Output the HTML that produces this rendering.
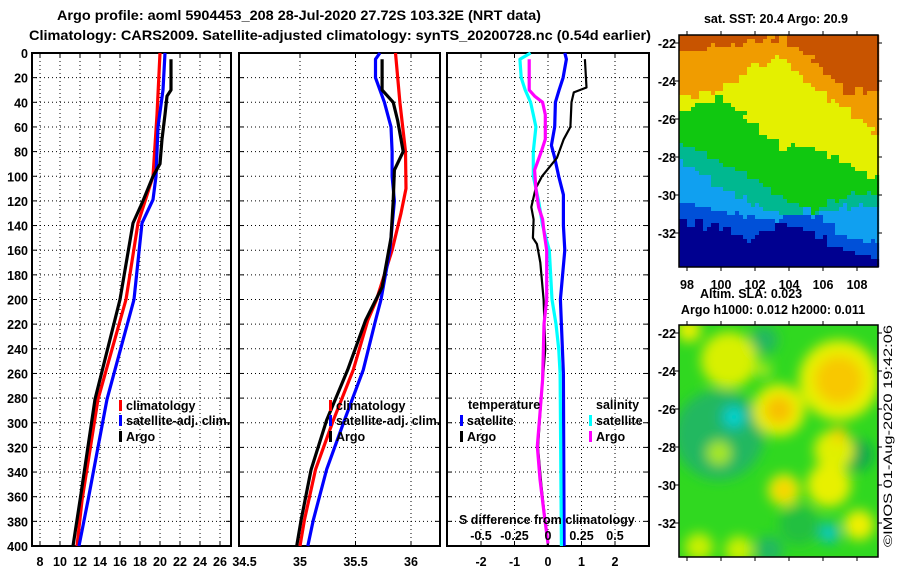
<!DOCTYPE html>
<html><head><meta charset="utf-8">
<style>
html,body{margin:0;padding:0;background:#fff;}
svg{display:block;font-family:"Liberation Sans",sans-serif;}
.b{font-weight:bold;font-size:12.5px;fill:#000;}
.t{font-weight:bold;font-size:14px;fill:#000;}
</style></head>
<body>
<svg id="fig" width="900" height="580" viewBox="0 0 900 580" xmlns="http://www.w3.org/2000/svg">
<text class="t" x="57" y="20" textLength="484" lengthAdjust="spacingAndGlyphs">Argo profile: aoml 5904453_208 28-Jul-2020 27.72S 103.32E (NRT data)</text>
<text class="t" x="29" y="40" textLength="622" lengthAdjust="spacingAndGlyphs">Climatology: CARS2009. Satellite-adjusted climatology: synTS_20200728.nc (0.54d earlier)</text>
<g id="panels"></g>
<g id="maps"></g>
<text x="892" y="547" transform="rotate(-90 892 547)" font-size="11.5" textLength="222" lengthAdjust="spacingAndGlyphs">©IMOS 01-Aug-2020 19:42:06</text>
</svg>
<script>
// ---- depth / profile data ----
const depthTicks = [0,20,40,60,80,100,120,140,160,180,200,220,240,260,280,300,320,340,360,380,400];
const tempTicks = [8,10,12,14,16,18,20,22,24,26];
const salTicks = [34.5,35,35.5,36];
const diffTicks = [-2,-1,0,1,2];
const sDiffTickLabels = ["-0.5","-0.25","0","0.25","0.5"];
const sDiffTickValues = [-0.5,-0.25,0,0.25,0.5];

const climTDepth = [0,50,100,138,200,281,363,400];
const climT = [20.0,19.7,19.3,17.8,16.6,13.8,12.2,11.7];
const satTDepth = [0,30,60,100,119,138,200,281,363,400];
const satT = [20.5,20.3,19.8,19.6,19.3,18.2,17.4,14.7,12.8,11.9];
const argoTDepth = [5,30,35,50,70,90,100,120,138,200,281,363,400];
const argoT = [21.1,21.1,20.7,20.5,20.2,20.0,19.3,18.3,17.3,16.0,13.5,12.0,11.3];

const climSDepth = [0,40,80,110,130,160,200,217,257,298,338,379,400];
const climS = [35.86,35.9,35.95,35.955,35.91,35.83,35.69,35.61,35.48,35.30,35.14,35.04,35.0];
const satSDepth = [0,5,20,40,60,80,100,120,160,200,217,257,298,338,379,400];
const satS = [35.72,35.68,35.68,35.76,35.82,35.83,35.83,35.85,35.81,35.73,35.68,35.57,35.40,35.24,35.12,35.07];
const argoSDepth = [5,30,40,55,80,95,120,150,190,217,257,298,338,379,400];
const argoS = [35.74,35.74,35.84,35.88,35.93,35.85,35.84,35.82,35.74,35.59,35.43,35.24,35.10,35.01,34.97];

const satDTDepth = [0,5,20,30,40,60,75,85,100,115,140,160,200,260,400];
const satDT = [0.5,0.55,0.45,0.33,0.22,0.2,0.1,0.2,0.32,0.46,0.46,0.5,0.37,0.46,0.48];
const argoDTDepth = [5,28,32,40,60,70,85,100,110,125,135,150,155,170,200,240,280,320,350,400];
const argoDT = [1.1,1.15,0.77,0.7,0.67,0.47,0.27,-0.18,-0.37,-0.5,-0.43,-0.45,-0.33,-0.23,-0.13,-0.08,-0.2,-0.3,-0.2,0];
const satDSDepth = [0,5,20,30,40,50,60,80,100,120,140,160,200,220,240,260,400];
const satDS = [-0.13,-0.21,-0.2,-0.17,-0.13,-0.11,-0.09,-0.11,-0.11,-0.07,-0.04,0.01,0.03,0.06,0.08,0.09,0.1];
const argoDSDepth = [5,30,35,40,50,70,80,95,110,125,135,145,160,200,220,265,292,319,346,373,398];
const argoDS = [-0.14,-0.14,-0.1,-0.04,-0.02,-0.02,-0.05,-0.1,-0.09,-0.07,-0.04,-0.03,-0.01,-0.01,-0.03,-0.04,-0.06,-0.08,-0.06,-0.03,0];

const mapLatTicks = [-22,-24,-26,-28,-30,-32];
const mapLonTicks = [98,100,102,104,106,108];

const NS="http://www.w3.org/2000/svg";
function mk(tag,attrs,parent){const e=document.createElementNS(NS,tag);for(const k in attrs)e.setAttribute(k,attrs[k]);parent.appendChild(e);return e;}
const yD = d => 53 + d*1.2325;
const xT = t => 40 + (t-8)*10;
const xS = s => 300 + (s-35)*111;
const xDT = v => 548 + v*33.5;
const xDS = v => 548 + v*134;
const P = document.getElementById('panels');

const frames=[{x0:32,x1:231,name:'temperature-panel'},{x0:239,x1:440,name:'salinity-panel'},{x0:447,x1:649,name:'difference-panel'}];
frames.forEach((f,i)=>{
  const g=mk('g',{},P);
  
  
  depthTicks.forEach(d=>{
    if(d>0&&d<400){const l=mk('line',{x1:f.x0,x2:f.x1,y1:yD(d),y2:yD(d),stroke:'#000','stroke-width':1,'stroke-dasharray':'1 3'},g);
    
    }
    mk('line',{x1:f.x0,x2:f.x0+5,y1:yD(d),y2:yD(d),stroke:'#000'},g);
    mk('line',{x1:f.x1-5,x2:f.x1,y1:yD(d),y2:yD(d),stroke:'#000'},g);
  });
  const r=mk('rect',{x:f.x0,y:53,width:f.x1-f.x0,height:493,fill:'none',stroke:'#000','stroke-width':2},g);
  
  
});
depthTicks.forEach(d=>{
  const t=mk('text',{x:28,y:yD(d)+5,'text-anchor':'end',class:'b'},P);
  t.textContent=d;
  
  
});
function vgrid(xs,scale,labels){
  xs.forEach((v,i)=>{
    const x=scale(v);
    const l=mk('line',{x1:x,x2:x,y1:53,y2:546,stroke:'#000','stroke-dasharray':'1 3'},P);
    
    
    mk('line',{x1:x,x2:x,y1:53,y2:58,stroke:'#000'},P);
    mk('line',{x1:x,x2:x,y1:541,y2:546,stroke:'#000'},P);
    if(labels){const t=mk('text',{x:x,y:566,'text-anchor':'middle',class:'b'},P);
    t.textContent=labels[i];
    
    }
  });
}
vgrid(tempTicks,xT,tempTicks.map(String));
vgrid([35,35.5,36],xS,null);
salTicks.forEach(s=>{const t=mk('text',{x:xS(s),y:566,'text-anchor':'middle',class:'b'},P);t.textContent=String(s);

});
vgrid(diffTicks,xDT,diffTicks.map(String));

function line(depths,vals,scale,color,w,name){
  const pts=depths.map((d,i)=>scale(vals[i]).toFixed(1)+','+yD(d).toFixed(1)).join(' ');
  const p=mk('polyline',{points:pts,fill:'none',stroke:color,'stroke-width':w,'stroke-linejoin':'round'},P);
  
  
}
line(climTDepth,climT,xT,'#f00',3.2,'temperature-climatology-line');
line(satTDepth,satT,xT,'#00f',3.2,'temperature-satellite-line');
line(argoTDepth,argoT,xT,'#000',3.2,'temperature-argo-line');
line(climSDepth,climS,xS,'#f00',3.2,'salinity-climatology-line');
line(satSDepth,satS,xS,'#00f',3.2,'salinity-satellite-line');
line(argoSDepth,argoS,xS,'#000',3.2,'salinity-argo-line');
line(satDTDepth,satDT,xDT,'#00f',3.2,'temp-diff-satellite-line');
line(argoDTDepth,argoDT,xDT,'#000',2.2,'temp-diff-argo-line');
line(satDSDepth,satDS,xDS,'#0ff',3.2,'sal-diff-satellite-line');
line(argoDSDepth,argoDS,xDS,'#f0f',3.2,'sal-diff-argo-line');

function legend(x,y,color,label,name){
  const g=mk('g',{},P);
  
  
  mk('rect',{x:x,y:y-10,width:3,height:11,fill:color},g);
  const t=mk('text',{x:x+7,y:y,class:'b'},g);t.textContent=label;
}
legend(119,410,'#f00','climatology','legend-climatology');
legend(119,425,'#00f','satellite-adj. clim.','legend-satellite-adj');
legend(119,441,'#000','Argo','legend-argo');
legend(329,410,'#f00','climatology','legend-climatology-sal');
legend(329,425,'#00f','satellite-adj. clim.','legend-satellite-adj-sal');
legend(329,441,'#000','Argo','legend-argo-sal');
let tt=mk('text',{x:468,y:409,class:'b'},P);tt.textContent='temperature';


legend(460,425,'#00f','satellite','legend-temp-satellite');
legend(460,441,'#000','Argo','legend-temp-argo');
tt=mk('text',{x:596,y:409,class:'b'},P);tt.textContent='salinity';


legend(589,425,'#0ff','satellite','legend-sal-satellite');
legend(589,441,'#f0f','Argo','legend-sal-argo');
tt=mk('text',{x:459,y:524,class:'b'},P);tt.textContent='S difference from climatology';


sDiffTickValues.forEach((v,i)=>{const t=mk('text',{x:xDS(v),y:540,'text-anchor':'middle',class:'b'},P);t.textContent=sDiffTickLabels[i];

});

// ---- maps ----
const M=document.getElementById('maps');
const mx0=679,mx1=878;
const latY=(top,lat)=>top+8+(-22-lat)*19;
const lonX=lon=>687+(lon-98)*17;
const bx=[0,40,70,100,130,165,199];
const bounds=[[15,10,5,0,20,55,55],[60,55,30,20,50,70,100],[75,60,85,110,110,125,145],[105,125,140,160,175,160,155],[125,150,165,178,178,170,170],[165,172,180,182,172,200,205],[185,190,205,185,195,215,222]];
const cols=['#c85400','#f09c00','#e4f000','#10c810','#00b890','#10a0f0','#0050d8','#000090'];
function interp(arr,x){for(let i=0;i<bx.length-1;i++){if(x<=bx[i+1]){const f=(x-bx[i])/(bx[i+1]-bx[i]);return arr[i]+f*(arr[i+1]-arr[i]);}}return arr[arr.length-1];}
const sst=mk('g',{},M);


for(let x=0;x<199;x+=4){for(let y=0;y<232;y+=4){
  const wob=2.5*Math.sin(x*0.37+y*0.21)+2*Math.sin(y*0.53-x*0.11);
  let lvl=0;bounds.forEach(b=>{if(y+wob>interp(b,x))lvl++;});
  mk('rect',{x:mx0+x,y:35+y,width:4.2,height:4.2,fill:cols[lvl]},sst);
}}
const sla=mk('g',{},M);


const defs=mk('defs',{},M);
const cp=mk('clipPath',{id:'slaclip'},defs);mk('rect',{x:mx0,y:325,width:199,height:232},cp);
const fl=mk('filter',{id:'blur',x:'-50%',y:'-50%',width:'200%',height:'200%'},defs);mk('feGaussianBlur',{stdDeviation:6},fl);
mk('rect',{x:mx0,y:325,width:199,height:232,fill:'#30d820'},sla);
const bg=mk('g',{'clip-path':'url(#slaclip)'},sla);
const bl=mk('g',{filter:'url(#blur)'},bg);
const blobs=[[40,110,45,'#20b860'],[85,15,14,'#20b860'],[90,225,14,'#20b860'],[178,130,16,'#10a850'],[120,200,20,'#20c040'],
[50,35,28,'#d8f000'],[10,5,12,'#e8f000'],[160,55,40,'#e8f000'],[160,55,24,'#f8c800'],[155,125,20,'#e0f000'],[150,160,22,'#e8f000'],
[100,85,26,'#e8f000'],[100,85,14,'#f8c000'],[105,165,16,'#f0e800'],[105,165,7,'#f8c800'],[180,200,15,'#f0f000'],[40,128,12,'#a8e820'],
[20,222,14,'#c8f000'],[60,225,14,'#c8f000'],[160,110,8,'#f8d000'],[55,92,14,'#10b8a0'],[55,92,7,'#00e0e0'],[150,208,11,'#10b8a0'],[150,208,5,'#00e0d8'],[85,45,8,'#a0e820']];
blobs.forEach(b=>mk('circle',{cx:mx0+b[0],cy:325+b[1],r:b[2],fill:b[3]},bl));

[35,325].forEach((top,k)=>{
  const f=mk('rect',{x:mx0,y:top,width:199,height:232,fill:'none',stroke:'#000','stroke-width':1.5},M);
  
  
  mapLatTicks.forEach(lat=>{const y=latY(top,lat);
    mk('line',{x1:mx0-4,x2:mx0,y1:y,y2:y,stroke:'#000'},M);mk('line',{x1:mx1,x2:mx1+4,y1:y,y2:y,stroke:'#000'},M);
    const t=mk('text',{x:676,y:y+5,'text-anchor':'end',class:'b'},M);t.textContent=lat;
    
    });
  mapLonTicks.forEach(lon=>{const x=lonX(lon);
    mk('line',{x1:x,x2:x,y1:top-4,y2:top,stroke:'#000'},M);mk('line',{x1:x,x2:x,y1:top+232,y2:top+236,stroke:'#000'},M);
    if(k===0){const t=mk('text',{x:x,y:289,'text-anchor':'middle',class:'b'},M);t.textContent=lon;
    
    }});
});
let mt=mk('text',{x:776,y:23,'text-anchor':'middle',class:'b'},M);mt.textContent='sat. SST: 20.4 Argo: 20.9';


mt=mk('text',{x:700,y:298,class:'b'},M);mt.textContent='Altim. SLA: 0.023';


mt=mk('text',{x:773,y:314,'text-anchor':'middle',class:'b'},M);mt.textContent='Argo h1000: 0.012 h2000: 0.011';


</script>
</body></html>
